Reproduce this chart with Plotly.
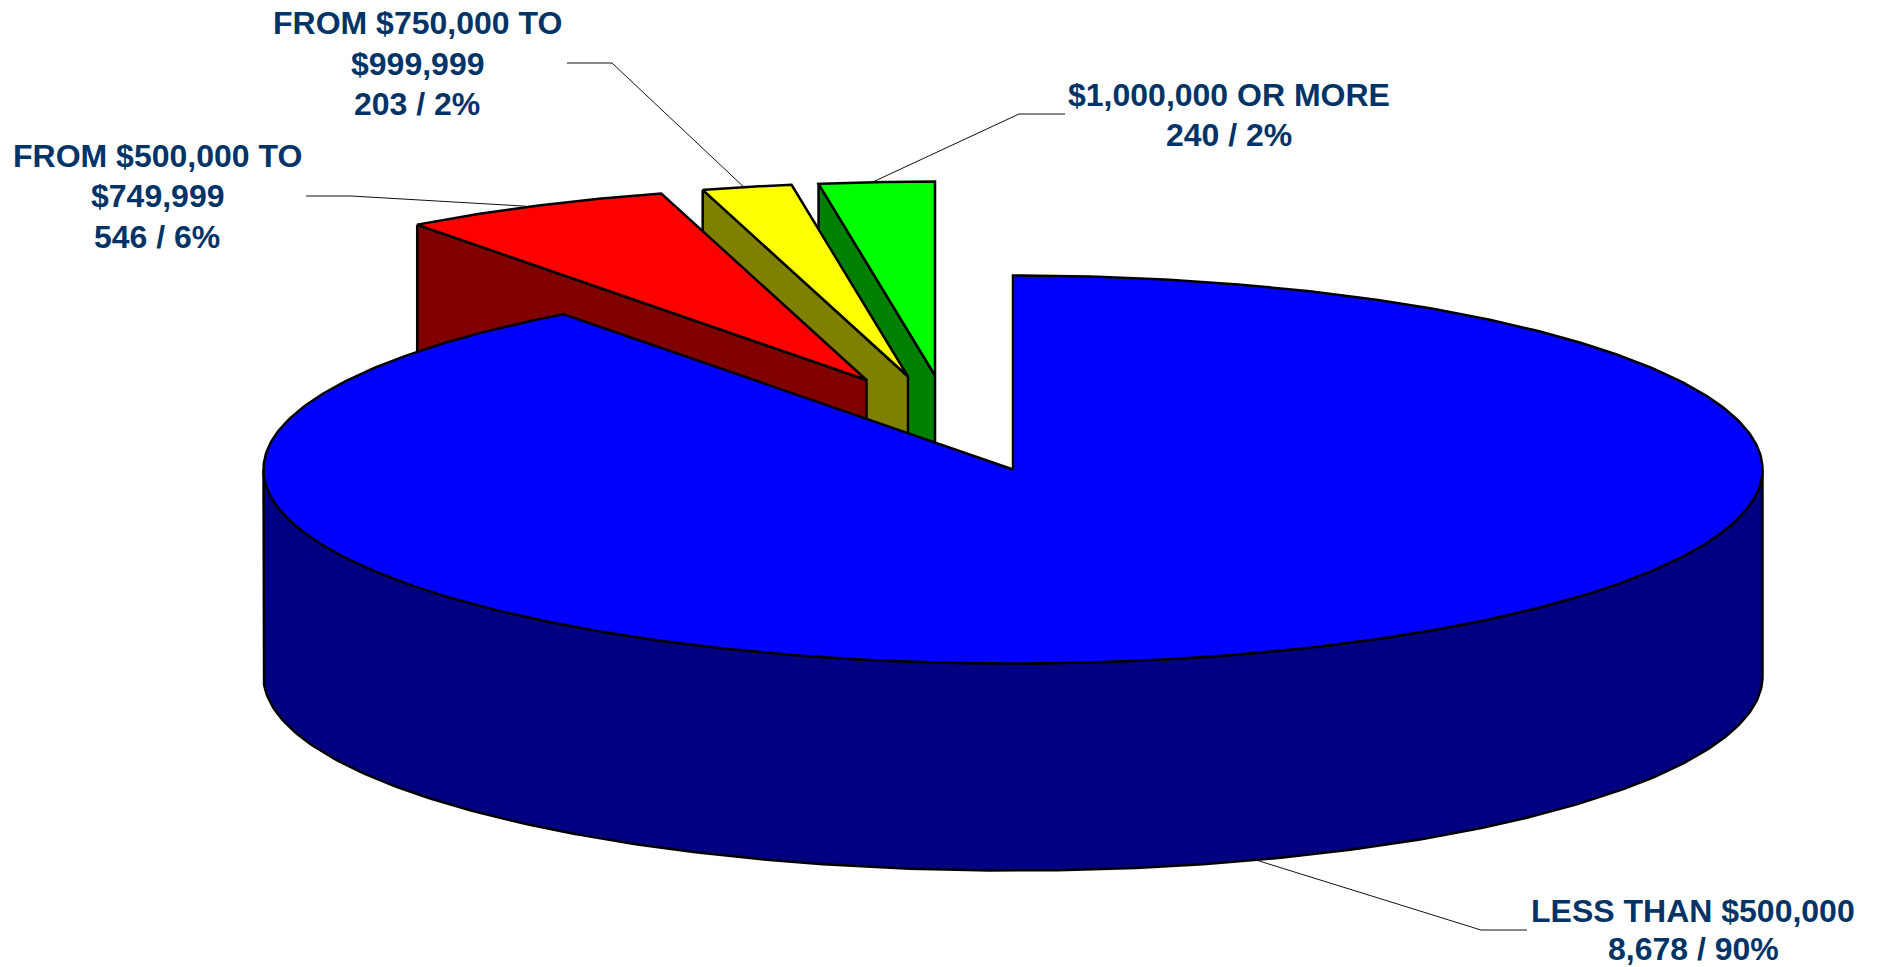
import numpy as np
import plotly.graph_objects as go

# ---- data ----
categories = ["LESS THAN $500,000", "FROM $500,000 TO $749,999",
              "FROM $750,000 TO $999,999", "$1,000,000 OR MORE"]
label_heads = [["LESS THAN $500,000"], ["FROM $500,000 TO", "$749,999"],
               ["FROM $750,000 TO", "$999,999"], ["$1,000,000 OR MORE"]]
counts = [8678, 546, 203, 240]

# ---- style / layout ----
top_colors = ["#0000FF", "#FF0000", "#FFFF00", "#00FF00"]
side_colors = ["#000080", "#800000", "#808000", "#008000"]
TEXT = "#003366"
W, H = 1877, 967
CX, CY, RX, RY, DEPTH = 1013, 469.5, 749.5, 194, 207
OUTLINE = 2.5
LINE_GAP = 40.7
explode = [(0, 0), (-146.5, -89.5), (-105, -93), (-78, -94)]
# small drawn-edge correction of the red/yellow boundary, in degrees
edge_nudge = [0, 0, 0.6, 0]
label_center_x = [1693, 157, 417, 1229]
label_first_y = [911, 155.5, 23, 94.5]
last_line_lift = [3, 0, 0, 0]
elbows = [((1481, 930), (1527, 930)), ((351, 196), (306, 196)),
          ((612, 63), (567, 63)), ((1019, 114), (1065, 114))]
anchor_nudge = [8, -8, -3, -4]

total = sum(counts)
spans = [c / total * 2 * np.pi for c in counts]
starts = np.cumsum([0] + spans[:-1]) + np.radians(edge_nudge)
ends = [*starts[1:], 2 * np.pi]


def rim(theta, ax, ay, dy=0.0):
    return ax + RX * np.sin(theta), ay - RY * np.cos(theta) + dy


fig = go.Figure()


def poly(xs, ys, fill, name):
    fig.add_trace(go.Scatter(
        x=list(xs), y=list(ys), mode="lines", fill="toself", fillcolor=fill,
        line=dict(color="black", width=OUTLINE), name=name, hoverinfo="name",
        showlegend=False))


# exploded slices back to front: green, yellow, red
for i in (3, 2, 1):
    ax, ay = CX + explode[i][0], CY + explode[i][1]
    x0, y0 = rim(starts[i], ax, ay)
    poly([x0, ax, ax, x0, x0], [y0, ay, ay + DEPTH, y0 + DEPTH, y0],
         side_colors[i], categories[i] + " side")
    t = np.linspace(starts[i], ends[i], 40)
    rx, ry = rim(t, ax, ay)
    poly([ax, *rx, ax], [ay, *ry, ay], top_colors[i], categories[i])

# main slice: front wall, then top
t = np.linspace(np.pi / 2, 3 * np.pi / 2, 240)
ux, uy = rim(t, CX, CY)
lx, ly = rim(t[::-1], CX, CY, DEPTH)
poly([*ux, *lx, ux[0]], [*uy, *ly, uy[0]], side_colors[0], categories[0] + " side")
t = np.linspace(starts[0], ends[0], 500)
tx, ty = rim(t, CX, CY)
poly([CX, *tx, CX], [CY, *ty, CY], top_colors[0], categories[0])

# leader lines, anchored near each slice's mid angle
for i in range(4):
    ax, ay = CX + explode[i][0], CY + explode[i][1]
    mid = (starts[i] + ends[i]) / 2
    lead_dy = DEPTH if np.cos(mid) < 0 else 0
    sx, sy = rim(mid, ax + anchor_nudge[i], ay, lead_dy)
    (ex, ey), (fx, fy) = elbows[i]
    fig.add_trace(go.Scatter(x=[sx, ex, fx], y=[sy, ey, fy], mode="lines",
                             line=dict(color="#111111", width=1),
                             hoverinfo="skip", showlegend=False))

annotations = []
for i in range(4):
    lines = label_heads[i] + [f"{counts[i]:,} / {round(counts[i] / total * 100)}%"]
    for j, s in enumerate(lines):
        y = label_first_y[i] + j * LINE_GAP
        if j == len(lines) - 1:
            y -= last_line_lift[i]
        annotations.append(dict(
            x=label_center_x[i], y=y, xref="x", yref="y",
            text=f"<b>{s}</b>", showarrow=False,
            xanchor="center", yanchor="middle", align="center",
            font=dict(family="Liberation Sans, Arial, sans-serif", size=32, color=TEXT)))

fig.update_layout(
    width=W, height=H, margin=dict(l=0, r=0, t=0, b=0), autosize=False,
    paper_bgcolor="white", plot_bgcolor="white", annotations=annotations,
    xaxis=dict(range=[0, W], visible=False, fixedrange=True),
    yaxis=dict(range=[H, 0], visible=False, fixedrange=True))

fig.write_html("out.html", config=dict(displayModeBar=False),
               post_script="document.body.style.margin='0';document.body.style.overflow='hidden';")
